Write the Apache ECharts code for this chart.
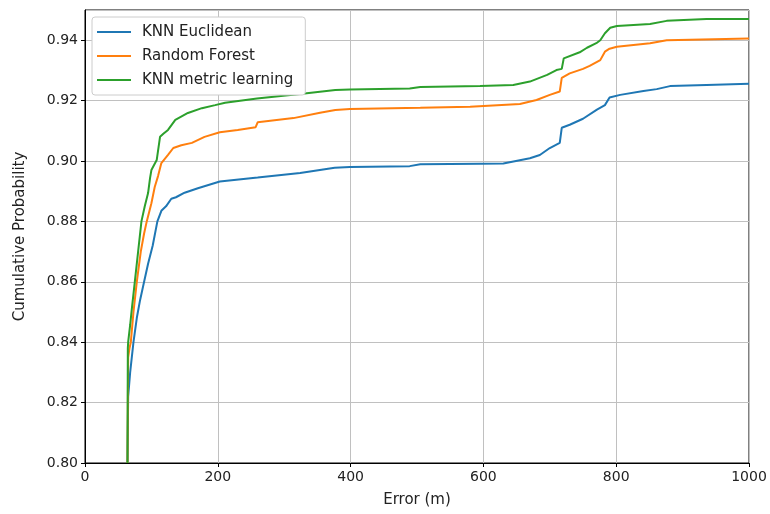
<!DOCTYPE html>
<html>
<head>
<meta charset="utf-8">
<script src="https://cdn.jsdelivr.net/npm/echarts@6/dist/echarts.min.js"></script>
<style>html,body{margin:0;padding:0;background:#fff}#c{width:770px;height:514px}</style>
</head>
<body>
<div id="c"></div>
<script>
const seriesNames = ['KNN Euclidean', 'Random Forest', 'KNN metric learning'];
const xTicks = [0, 200, 400, 600, 800, 1000];
const yTicks = [0.80, 0.82, 0.84, 0.86, 0.88, 0.90, 0.92, 0.94];

const knnEuclidean = [
  [64,0.800],[65,0.822],[68,0.830],[73,0.840],[78,0.848],[83,0.854],[89,0.860],[95,0.866],
  [102,0.872],[109,0.880],[115,0.8835],[122,0.885],[130,0.8875],[137,0.888],[150,0.8895],
  [170,0.891],[203,0.8932],[260,0.8945],[324,0.896],[376,0.8978],[399,0.898],[489,0.8983],
  [505,0.8989],[595,0.8991],[630,0.8992],[670,0.9009],[685,0.902],[700,0.9043],[715,0.906],
  [718,0.911],[730,0.912],[750,0.914],[771,0.917],[783,0.9185],[790,0.921],[806,0.9219],
  [841,0.9232],[861,0.9238],[881,0.9248],[936,0.9252],[1000,0.9256]
];
const randomForest = [
  [64,0.800],[65,0.835],[67,0.838],[69,0.840],[73,0.850],[78,0.860],[84,0.870],[89,0.876],
  [93,0.880],[100,0.886],[105,0.8914],[110,0.895],[115,0.8993],[125,0.902],[133,0.9043],
  [145,0.9052],[161,0.906],[180,0.908],[203,0.9095],[230,0.9103],[257,0.9112],[260,0.9128],
  [314,0.9142],[354,0.916],[377,0.9169],[399,0.9172],[505,0.9176],[580,0.918],[655,0.9189],
  [680,0.9202],[700,0.9219],[715,0.923],[718,0.9275],[730,0.929],[750,0.9305],[760,0.9315],
  [776,0.9334],[783,0.9362],[790,0.9372],[801,0.9378],[851,0.939],[876,0.94],[1000,0.9406]
];
const knnMetric = [
  [64,0.800],[64.5,0.838],[65,0.840],[68,0.8457],[71,0.852],[75,0.860],[80,0.870],[85,0.880],
  [90,0.885],[95,0.8894],[98,0.8944],[100,0.897],[108,0.9003],[113,0.908],[118,0.909],
  [125,0.9103],[136,0.9136],[155,0.9159],[176,0.9175],[196,0.9185],[211,0.9193],[259,0.9207],
  [324,0.9222],[377,0.9235],[399,0.9237],[489,0.924],[505,0.9245],[595,0.9248],[645,0.9252],
  [670,0.9263],[696,0.9285],[710,0.9301],[718,0.9305],[721,0.934],[745,0.936],[756,0.9375],
  [770,0.939],[776,0.94],[783,0.9423],[791,0.9441],[801,0.9447],[851,0.9454],[876,0.9464],
  [936,0.947],[1000,0.947]
];

const colors = ['#1f77b4', '#ff7f0e', '#2ca02c'];
const font = 'DejaVu Sans';
const chart = echarts.init(document.getElementById('c'), null, {renderer: 'canvas'});
const mk = (name, data, c) => ({
  name, type: 'line', data, showSymbol: false, symbol: 'none',
  lineStyle: {color: c, width: 2}, itemStyle: {color: c}, animation: false, clip: true
});
chart.setOption({
  animation: false,
  color: colors,
  grid: {left: 85, right: 21, top: 10, bottom: 51, show: true, borderColor: '#000', borderWidth: 1, containLabel: false},
  legend: {
    left: 92, top: 17, orient: 'vertical',
    data: seriesNames.map(n => ({name: n, icon: 'rect'})),
    itemWidth: 34, itemHeight: 2, itemGap: 6,
    padding: [6, 12, 6, 5],
    backgroundColor: '#fff', borderColor: '#cccccc', borderWidth: 1, borderRadius: 3,
    textStyle: {fontFamily: font, fontSize: 15, color: '#222', lineHeight: 18, padding: [0, 0, 0, 6]}
  },
  xAxis: {
    type: 'value', min: xTicks[0], max: xTicks[xTicks.length - 1], interval: 200,
    name: 'Error (m)', nameLocation: 'middle', nameGap: 30,
    nameTextStyle: {fontFamily: font, fontSize: 15, color: '#222'},
    axisLine: {show: true, lineStyle: {color: '#000', width: 1}},
    axisTick: {show: true, inside: false, length: 4, lineStyle: {color: '#000'}},
    axisLabel: {fontFamily: font, fontSize: 14, color: '#222', margin: 7, formatter: v => String(v)},
    splitLine: {show: true, lineStyle: {color: '#c0c0c0', width: 1}}
  },
  yAxis: {
    type: 'value', min: 0.80, max: 0.95, interval: 0.02,
    name: 'Cumulative Probability', nameLocation: 'middle', nameGap: 57, nameRotate: 90,
    nameTextStyle: {fontFamily: font, fontSize: 15, color: '#222'},
    axisLine: {show: true, lineStyle: {color: '#000', width: 1}},
    axisTick: {show: true, inside: false, length: 4, lineStyle: {color: '#000'}},
    axisLabel: {fontFamily: font, fontSize: 14, color: '#222', margin: 7, showMaxLabel: false,
      formatter: v => yTicks.some(t => Math.abs(t - v) < 1e-9) ? v.toFixed(2) : ''},
    splitLine: {show: true, lineStyle: {color: '#c0c0c0', width: 1}}
  },
  series: [
    mk(seriesNames[0], knnEuclidean, colors[0]),
    mk(seriesNames[1], randomForest, colors[1]),
    mk(seriesNames[2], knnMetric, colors[2])
  ]
});
</script>
</body>
</html>
